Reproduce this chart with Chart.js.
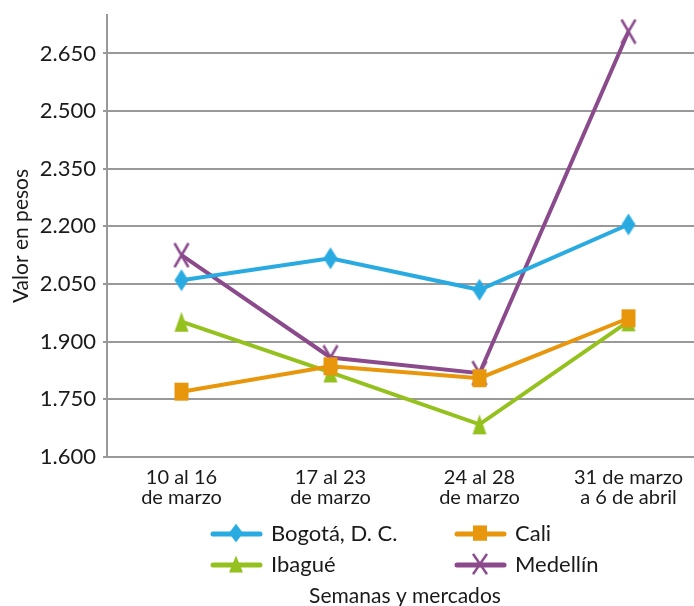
<!DOCTYPE html>
<html>
<head>
<meta charset="utf-8">
<script src="https://cdn.jsdelivr.net/npm/chart.js@4"></script>
<style>
  html, body { margin: 0; padding: 0; background: #fff; overflow: hidden; }
  #wrap { width: 694px; height: 606px; overflow: hidden; }
  #chart { display: block; }
</style>
</head>
<body>
<div id="wrap"><canvas id="chart" width="717" height="606" style="width:717px;height:606px"></canvas></div>
<script>
var weeks = [['10 al 16', 'de marzo'], ['17 al 23', 'de marzo'], ['24 al 28', 'de marzo'], ['31 de marzo', 'a 6 de abril']];
var seriesNames = ['Bogotá, D. C.', 'Cali', 'Ibagué', 'Medellín'];
var bogota = [2060, 2117, 2035, 2205];
var cali = [1770, 1836, 1805, 1961];
var ibague = [1952, 1820, 1685, 1953];
var medellin = [2125, 1859, 1818, 2707];
var yTicks = [1600, 1750, 1900, 2050, 2200, 2350, 2500, 2650];

var FONT = 'Lato, "Noto Sans", sans-serif';
var colors = ['#29abe2', '#e8960c', '#95c11f', '#8a4a8c'];
var shapes = ['diamond', 'square', 'triangle', 'cross'];

// marker images, drawn once and handed to Chart.js as pointStyle
function makeMarker(kind, color) {
    var c = document.createElement('canvas');
    c.width = 18;
    c.height = 26;
    var g = c.getContext('2d');
    g.fillStyle = color;
    g.strokeStyle = color;
    if (kind === 'diamond') {
        g.beginPath();
        g.moveTo(9, 2); g.lineTo(16, 13); g.lineTo(9, 24); g.lineTo(2, 13);
        g.closePath();
        g.fill();
    } else if (kind === 'square') {
        g.fillRect(2, 4, 14, 18);
    } else if (kind === 'triangle') {
        g.beginPath();
        g.moveTo(9, 3); g.lineTo(16, 23); g.lineTo(2, 23);
        g.closePath();
        g.fill();
    } else {
        g.lineWidth = 2.5;
        g.beginPath();
        g.moveTo(2, 1); g.lineTo(16, 25);
        g.moveTo(16, 1); g.lineTo(2, 25);
        g.stroke();
    }
    return c;
}

var markers = shapes.map(function (s, i) { return makeMarker(s, colors[i]); });

function fmt(v) {
    return String(v).replace(/\B(?=(\d{3})+(?!\d))/g, '.');
}

var legendPlugin = {
    id: 'gridLegend',
    afterDraw: function (chart) {
        var ctx = chart.ctx;
        var cols = [213, 457];
        var rows = [534, 565];
        ctx.save();
        seriesNames.forEach(function (name, i) {
            var x = cols[i % 2];
            var y = rows[Math.floor(i / 2)];
            ctx.strokeStyle = colors[i];
            ctx.lineWidth = 5;
            ctx.lineCap = 'round';
            ctx.beginPath();
            ctx.moveTo(x, y);
            ctx.lineTo(x + 47, y);
            ctx.stroke();
            var m = markers[i];
            ctx.drawImage(m, x + 23 - m.width / 2, y - m.height / 2 + 1, m.width, m.height * 0.85);
            ctx.fillStyle = '#1a1a1a';
            ctx.font = '22px ' + FONT;
            ctx.textBaseline = 'middle';
            ctx.fillText(name, x + 58, y);
        });
        ctx.restore();
    }
};

var seriesData = [bogota, cali, ibague, medellin];

new Chart(document.getElementById('chart'), {
    type: 'line',
    data: {
        labels: weeks,
        datasets: seriesData.map(function (vals, i) {
            return {
                label: seriesNames[i],
                data: vals,
                borderColor: colors[i],
                backgroundColor: colors[i],
                borderWidth: 4,
                pointStyle: markers[i],
                pointRadius: 10,
                tension: 0
            };
        })
    },
    options: {
        responsive: false,
        animation: false,
        devicePixelRatio: 1,
        layout: { padding: { top: 15, left: 0, right: 0, bottom: 0 } },
        plugins: {
            legend: { display: false },
            tooltip: { enabled: false }
        },
        scales: {
            x: {
                offset: true,
                grid: { display: false, drawTicks: false },
                border: { display: true, color: '#999999', width: 2 },
                ticks: {
                    color: '#1a1a1a',
                    padding: 11,
                    font: { family: FONT, size: 20, lineHeight: 1.0 },
                    maxRotation: 0
                },
                title: {
                    display: true,
                    text: 'Semanas y mercados',
                    color: '#1a1a1a',
                    font: { family: FONT, size: 21 },
                    padding: { top: 0, bottom: -3 }
                },
                afterFit: function (axis) {
                    axis.height = 149;
                    axis.paddingLeft = 0;
                    axis.paddingRight = 0;
                }
            },
            y: {
                min: 1600,
                max: 2750,
                grid: { color: '#999999', lineWidth: 2, tickLength: 4 },
                border: { display: true, color: '#999999', width: 2 },
                ticks: {
                    stepSize: 150,
                    color: '#1a1a1a',
                    padding: 7,
                    font: { family: FONT, size: 22 },
                    callback: function (v) { return fmt(v); }
                },
                afterBuildTicks: function (axis) {
                    axis.ticks = yTicks.map(function (v) { return { value: v }; });
                },
                title: {
                    display: true,
                    text: 'Valor en pesos',
                    color: '#1a1a1a',
                    font: { family: FONT, size: 21 },
                    padding: { top: 9, bottom: 0 }
                },
                afterFit: function (axis) {
                    axis.width = 107;
                    axis.paddingTop = 0;
                    axis.paddingBottom = 0;
                }
            }
        }
    },
    plugins: [legendPlugin]
});
</script>
</body>
</html>
